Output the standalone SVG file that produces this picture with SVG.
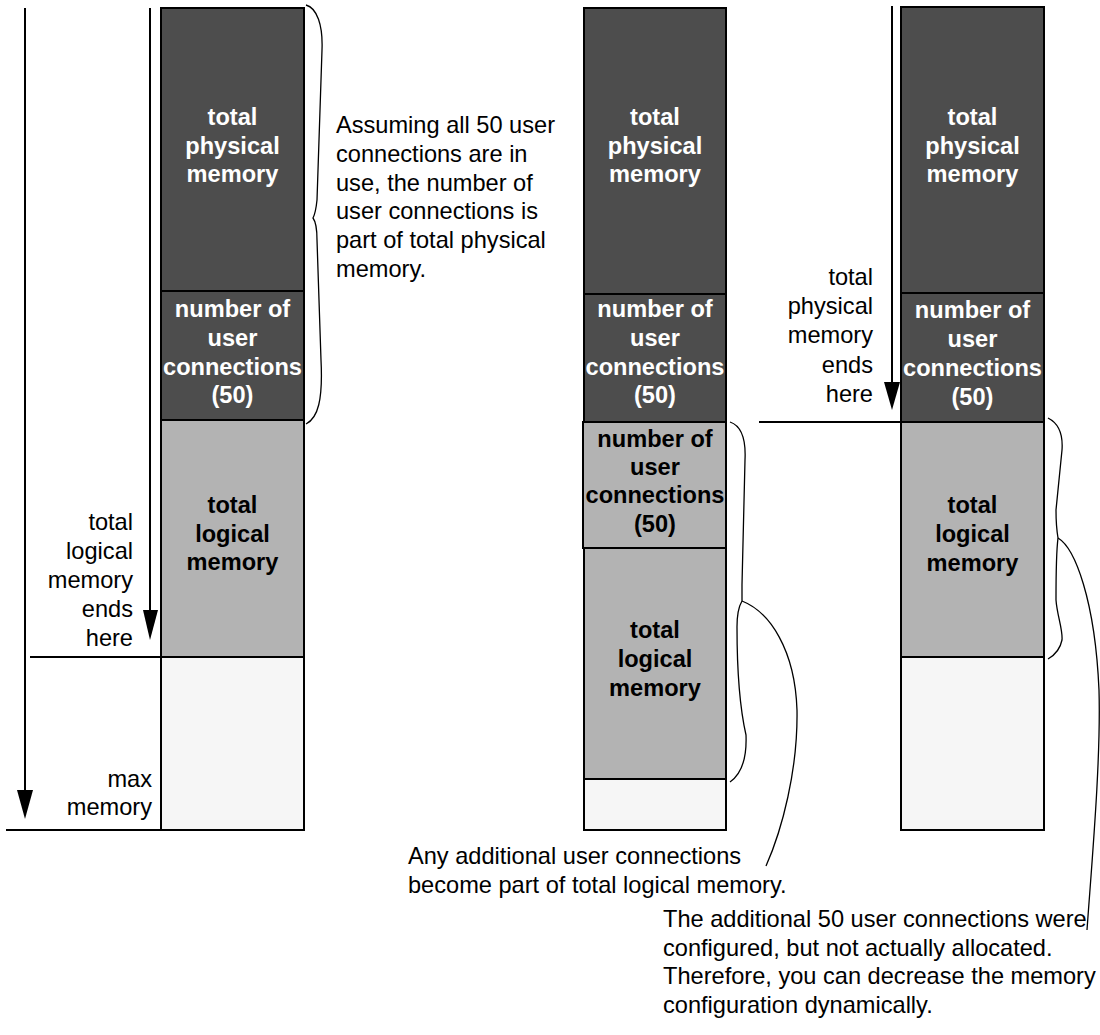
<svg xmlns="http://www.w3.org/2000/svg" width="1100" height="1035" viewBox="0 0 1100 1035">
<style>
  .box { stroke:#000; stroke-width:2; }
  .dark { fill:#4d4d4d; }
  .gray { fill:#b3b3b3; }
  .pale { fill:#f6f6f6; }
  .bw { font-family:"Liberation Sans", Arial, sans-serif; font-size:23.6px; font-weight:bold; fill:#fff; text-anchor:middle; }
  .bb { font-family:"Liberation Sans", Arial, sans-serif; font-size:23.6px; font-weight:bold; fill:#000; text-anchor:middle; }
  .t { font-family:"Liberation Sans", Arial, sans-serif; font-size:23.6px; fill:#000; }
  .r { text-anchor:end; }
  .ln { stroke:#000; stroke-width:2; fill:none; }
  .br { stroke:#000; stroke-width:1.3; fill:none; }
</style>

<g id="col-left">
  <rect class="box dark" x="161" y="8" width="143" height="283"/>
  <text class="bw" x="232.5" y="125">total</text>
  <text class="bw" x="232.5" y="153.5">physical</text>
  <text class="bw" x="232.5" y="182">memory</text>
  <rect class="box dark" x="161" y="291" width="143" height="129"/>
  <text class="bw" x="232.5" y="317">number of</text>
  <text class="bw" x="232.5" y="346">user</text>
  <text class="bw" x="232.5" y="374.5">connections</text>
  <text class="bw" x="232.5" y="403">(50)</text>
  <rect class="box gray" x="161" y="420" width="143" height="237"/>
  <text class="bb" x="232.5" y="513">total</text>
  <text class="bb" x="232.5" y="542">logical</text>
  <text class="bb" x="232.5" y="570">memory</text>
  <rect class="box pale" x="161" y="657" width="143" height="173"/>
</g>

<g id="col-middle">
  <rect class="box dark" x="584" y="8" width="142" height="286"/>
  <text class="bw" x="655" y="125">total</text>
  <text class="bw" x="655" y="153.5">physical</text>
  <text class="bw" x="655" y="182">memory</text>
  <rect class="box dark" x="584" y="294" width="142" height="128"/>
  <text class="bw" x="655" y="317">number of</text>
  <text class="bw" x="655" y="346">user</text>
  <text class="bw" x="655" y="374.5">connections</text>
  <text class="bw" x="655" y="403">(50)</text>
  <rect class="box gray" x="583" y="422" width="143" height="126"/>
  <text class="bb" x="655" y="447">number of</text>
  <text class="bb" x="655" y="475">user</text>
  <text class="bb" x="655" y="503">connections</text>
  <text class="bb" x="655" y="532">(50)</text>
  <rect class="box gray" x="584" y="548" width="142" height="231"/>
  <text class="bb" x="655" y="638">total</text>
  <text class="bb" x="655" y="667">logical</text>
  <text class="bb" x="655" y="696">memory</text>
  <rect class="box pale" x="584" y="779" width="142" height="51"/>
</g>

<g id="col-right">
  <rect class="box dark" x="901" y="7" width="143" height="286"/>
  <text class="bw" x="972.5" y="125">total</text>
  <text class="bw" x="972.5" y="153.5">physical</text>
  <text class="bw" x="972.5" y="182">memory</text>
  <rect class="box dark" x="901" y="293" width="143" height="129"/>
  <text class="bw" x="972.5" y="318">number of</text>
  <text class="bw" x="972.5" y="347">user</text>
  <text class="bw" x="972.5" y="376">connections</text>
  <text class="bw" x="972.5" y="405">(50)</text>
  <rect class="box gray" x="901" y="422" width="143" height="235"/>
  <text class="bb" x="972.5" y="513">total</text>
  <text class="bb" x="972.5" y="542">logical</text>
  <text class="bb" x="972.5" y="571">memory</text>
  <rect class="box pale" x="901" y="657" width="143" height="173"/>
</g>

<g id="connectors">
  <line class="ln" x1="25" y1="8" x2="25" y2="795"/>
  <polygon points="17,790 33,790 25,819" fill="#000"/>
  <line class="ln" x1="150" y1="8" x2="150" y2="615"/>
  <polygon points="143,610 158,610 150,640" fill="#000"/>
  <line class="ln" x1="892" y1="6" x2="892" y2="387"/>
  <polygon points="884,382 900,382 892,410" fill="#000"/>
  <line class="ln" x1="30" y1="657" x2="161" y2="657"/>
  <line class="ln" x1="6" y1="830" x2="304" y2="830"/>
  <line class="ln" x1="759" y1="422" x2="901" y2="422"/>

  <path class="br" d="M306,5 C317,8 323,25 322,50 L317,200 C316,210 315,214 313,218 C316,222 317,228 317,240 L321,360 C323,400 318,418 306,424"/>
  <path class="br" d="M730,422 C742,426 746,440 745,460 L742,585 C742,593 742,598 742,601 C739,606 737,614 737,627 C737,660 738,700 746,735 C747,760 740,775 730,782"/>
  <path class="br" d="M742,601 C770,612 795,650 797,710 C798,770 782,830 766,866"/>
  <path class="br" d="M1048,418 C1060,424 1063,436 1062,450 L1056,510 C1056,525 1057,532 1058,538 C1057,546 1056,560 1056,600 C1057,615 1063,630 1062,640 C1060,650 1055,655 1048,659"/>
  <path class="br" d="M1058,538 C1075,548 1095,600 1099,690 C1101,760 1092,860 1087,930"/>
</g>

<g id="labels">
  <text class="t r" x="133" y="530">total</text>
  <text class="t r" x="133" y="559">logical</text>
  <text class="t r" x="133" y="588">memory</text>
  <text class="t r" x="133" y="617">ends</text>
  <text class="t r" x="133" y="646">here</text>
  <text class="t r" x="152" y="787">max</text>
  <text class="t r" x="152" y="815">memory</text>

  <text class="t r" x="873" y="285">total</text>
  <text class="t r" x="873" y="314">physical</text>
  <text class="t r" x="873" y="343">memory</text>
  <text class="t r" x="873" y="373">ends</text>
  <text class="t r" x="873" y="402">here</text>

  <text class="t" x="336" y="133">Assuming all 50 user</text>
  <text class="t" x="336" y="162">connections are in</text>
  <text class="t" x="336" y="190.5">use, the number of</text>
  <text class="t" x="336" y="219">user connections is</text>
  <text class="t" x="336" y="248">part of total physical</text>
  <text class="t" x="336" y="276.5">memory.</text>

  <text class="t" x="408" y="864">Any additional user connections</text>
  <text class="t" x="408" y="893">become part of total logical memory.</text>

  <text class="t" x="663" y="927">The additional 50 user connections were</text>
  <text class="t" x="663" y="955.5">configured, but not actually allocated.</text>
  <text class="t" x="663" y="984">Therefore, you can decrease the memory</text>
  <text class="t" x="663" y="1012.5">configuration dynamically.</text>
</g>
</svg>
